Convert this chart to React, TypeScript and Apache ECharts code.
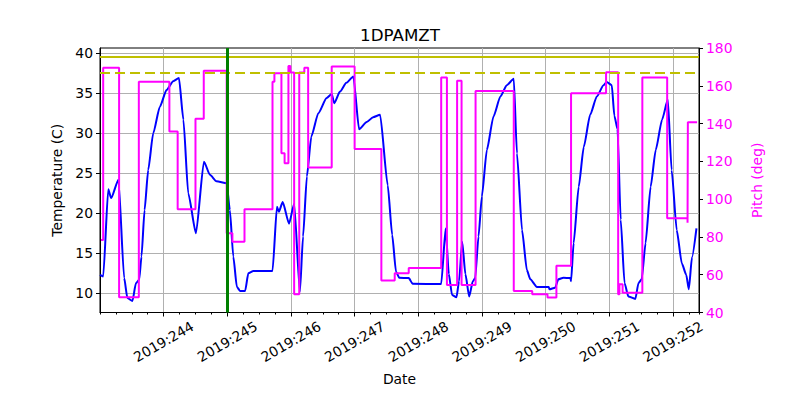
import React, { useEffect, useRef } from "react";
import * as echarts from "echarts";

const tempDays = [
  243.0, 243.05, 243.13, 243.175, 243.29, 243.38, 243.43, 243.51, 243.564, 243.615, 243.652,
  243.7, 243.757, 243.836, 243.94, 244.045, 244.15, 244.24, 244.31, 244.386, 244.507, 244.633,
  244.727, 244.83, 244.99, 245.04, 245.094, 245.15, 245.2, 245.28, 245.33, 245.41, 245.71,
  245.78, 245.81, 245.87, 245.97, 246.05, 246.14, 246.19, 246.25, 246.32, 246.43, 246.56,
  246.64, 246.68, 246.77, 246.87, 246.98, 247.07, 247.19, 247.29, 247.4, 247.52, 247.59,
  247.65, 247.7, 247.85, 247.91, 248.36, 248.43, 248.48, 248.53, 248.6, 248.64, 248.69,
  248.74, 248.8, 248.857, 248.894, 248.946, 248.999, 249.077, 249.182, 249.29, 249.39, 249.5,
  249.55, 249.63, 249.706, 249.76, 249.864, 250.05, 250.06, 250.15, 250.2, 250.28, 250.39,
  250.4, 250.44, 250.52, 250.6, 250.7, 250.805, 250.91, 250.96, 251.04, 251.08, 251.13,
  251.18, 251.24, 251.3, 251.41, 251.46, 251.51, 251.57, 251.65, 251.73, 251.83, 251.92,
  251.98, 252.06, 252.14, 252.21, 252.25, 252.3, 252.37,
];
const tempValues = [
  12.3, 12.1, 23.0, 21.9, 24.2, 11.9, 9.4, 9.05, 11.25, 11.7, 14.6,
  20.4, 25.4, 30.0, 33.3, 35.4, 36.5, 36.9, 31.7, 22.5, 17.5, 26.45,
  24.8, 24.0, 23.75, 20.4, 14.6, 10.8, 10.3, 10.3, 12.5, 12.8, 12.8,
  20.8, 20.2, 21.4, 18.7, 21.2, 10.2, 17.1, 24.6, 29.6, 32.5, 34.4,
  34.9, 33.75, 35.2, 36.3, 37.1, 30.5, 31.4, 32.0, 32.3, 23.5, 17.3,
  12.7, 11.95, 11.9, 11.2, 11.15, 18.1, 12.4, 9.8, 9.5, 11.5, 16.45,
  12.4, 9.6, 11.5, 11.9, 17.1, 22.1, 27.9, 32.1, 34.6, 36.0, 36.8,
  27.5, 17.9, 12.9, 11.75, 10.8, 10.8, 10.5, 10.7, 11.75, 11.95, 11.9,
  11.5, 16.25, 23.3, 28.3, 32.3, 34.6, 36.0, 36.4, 36.0, 32.2, 30.5,
  19.2, 11.3, 9.6, 9.3, 11.3, 11.75, 16.25, 23.3, 27.9, 31.7, 34.2,
  25.4, 17.9, 13.75, 12.3, 10.5, 14.5, 18.1,
];

const pitchDays = [
  243.015, 243.05, 243.3, 243.61, 244.09, 244.22, 244.5, 244.63, 244.99, 245.08, 245.27,
  245.71, 245.74, 245.85, 245.9, 245.96, 245.99, 246.05, 246.13, 246.21, 246.27, 246.64,
  247.0, 247.42, 247.63, 247.85, 248.36, 248.45, 248.61, 248.68, 248.9, 249.5, 249.79,
  250.03, 250.17, 250.4, 250.95, 251.14, 251.16, 251.21, 251.52, 251.91, 252.23, 252.235,
  252.38,
];
const pitchValues = [
  78.4, 169.6, 48.1, 162.2, 135.8, 94.7, 142.5, 167.9, 82.0, 77.5, 94.7,
  162.2, 166.7, 124.3, 119.0, 170.5, 167.0, 49.6, 167.0, 169.6, 116.7, 170.2,
  126.5, 56.9, 60.8, 63.5, 164.4, 54.6, 162.6, 54.6, 157.3, 51.4, 49.7,
  47.9, 64.7, 156.1, 167.2, 49.7, 55.0, 50.5, 164.4, 89.9, 87.5, 140.7,
  140.7,
];

const dayTicks = [244, 245, 246, 247, 248, 249, 250, 251, 252];
const tempTicks = [10, 15, 20, 25, 30, 35, 40];
const limitSolid = 39.6;
const limitDashed = 37.6;
const eventDay = 245;

const FONT = "DejaVu Sans";

export default function App() {
  const ref = useRef<HTMLDivElement>(null);
  useEffect(() => {
    if (!ref.current) return;
    const chart = echarts.init(ref.current, undefined, { renderer: "svg" });
    const tempData = tempDays.map((d, i) => [d, tempValues[i]]);
    const pitchData = pitchDays.map((d, i) => [d, pitchValues[i]]);
    chart.setOption({
      animation: false,
      backgroundColor: "#ffffff",
      textStyle: { fontFamily: FONT },
      title: {
        text: "1DPAMZT",
        left: "center",
        top: 26,
        padding: 0,
        textStyle: { fontFamily: FONT, fontSize: 16.7, fontWeight: "normal", color: "#000" },
      },
      grid: {
        left: 100,
        right: 101,
        top: 48,
        bottom: 87.5,
        show: true,
        borderColor: "#000",
        borderWidth: 1,
        backgroundColor: "transparent",
      },
      xAxis: [
        {
          type: "value",
          min: 243,
          max: 252.41,
          interval: 1,
          position: "bottom",
          name: "Date",
          nameLocation: "middle",
          nameGap: 59,
          nameTextStyle: { fontFamily: FONT, fontSize: 13.9, color: "#000" },
          axisLine: { show: true, lineStyle: { color: "#000", width: 1 } },
          axisTick: { show: true, length: 4, customValues: dayTicks, lineStyle: { color: "#000" } },
          axisLabel: {
            customValues: dayTicks,
            rotate: 30,
            align: "center",
            verticalAlign: "middle",
            margin: 29,
            fontFamily: FONT,
            fontSize: 13.9,
            color: "#000",
            formatter: (v: number) => `2019:${Math.round(v)}`,
          },
          splitLine: { show: true, lineStyle: { color: "#b0b0b0", width: 1 } },
        },
        {
          type: "value",
          min: 243,
          max: 252.41,
          interval: 0.25,
          position: "bottom",
          axisLine: { show: false },
          axisTick: { show: true, length: 2, lineStyle: { color: "#000" } },
          axisLabel: { show: false },
          splitLine: { show: false },
        },
      ],
      yAxis: [
        {
          type: "value",
          min: 7.6,
          max: 40.65,
          position: "left",
          name: "Temperature (C)",
          nameLocation: "middle",
          nameRotate: 90,
          nameGap: 33,
          nameTextStyle: { fontFamily: FONT, fontSize: 13.9, color: "#000" },
          axisLine: { show: true, lineStyle: { color: "#000", width: 1 } },
          axisTick: { show: true, length: 4, customValues: tempTicks, lineStyle: { color: "#000" } },
          axisLabel: {
            customValues: tempTicks,
            margin: 7,
            fontFamily: FONT,
            fontSize: 13.9,
            color: "#000",
          },
          splitLine: { show: true, lineStyle: { color: "#b0b0b0", width: 1 } },
        },
        {
          type: "value",
          min: 40,
          max: 180,
          interval: 20,
          position: "right",
          name: "Pitch (deg)",
          nameLocation: "middle",
          nameRotate: 90,
          nameGap: 51,
          nameTextStyle: { fontFamily: FONT, fontSize: 13.9, color: "#ff00ff" },
          axisLine: { show: true, lineStyle: { color: "#000", width: 1 } },
          axisTick: { show: true, length: 4, lineStyle: { color: "#000" } },
          axisLabel: { margin: 7, fontFamily: FONT, fontSize: 13.9, color: "#ff00ff" },
          splitLine: { show: false },
        },
      ],
      series: [
        {
          type: "line",
          name: "temp",
          xAxisIndex: 0,
          yAxisIndex: 0,
          data: tempData,
          showSymbol: false,
          smooth: 0.2,
          smoothMonotone: "x",
          lineStyle: { color: "#0000ff", width: 2, join: "round" },
          itemStyle: { color: "#0000ff" },
          z: 3,
          markLine: {
            silent: true,
            symbol: ["none", "none"],
            label: { show: false },
            animation: false,
            data: [
              { yAxis: limitSolid, lineStyle: { color: "#bfbf00", width: 2.2, type: "solid" } },
              { yAxis: limitDashed, lineStyle: { color: "#bfbf00", width: 2.2, type: [10, 5] } },
              { xAxis: eventDay, lineStyle: { color: "#008000", width: 3, type: "solid" } },
            ],
          },
        },
        {
          type: "line",
          name: "pitch",
          xAxisIndex: 0,
          yAxisIndex: 1,
          data: pitchData,
          step: "end",
          showSymbol: false,
          lineStyle: { color: "#ff00ff", width: 2 },
          itemStyle: { color: "#ff00ff" },
          z: 4,
        },
      ],
    });
    return () => chart.dispose();
  }, []);
  return (
    <div
      ref={ref}
      style={{ position: "absolute", left: 0, top: 0, width: 800, height: 400 }}
    />
  );
}
